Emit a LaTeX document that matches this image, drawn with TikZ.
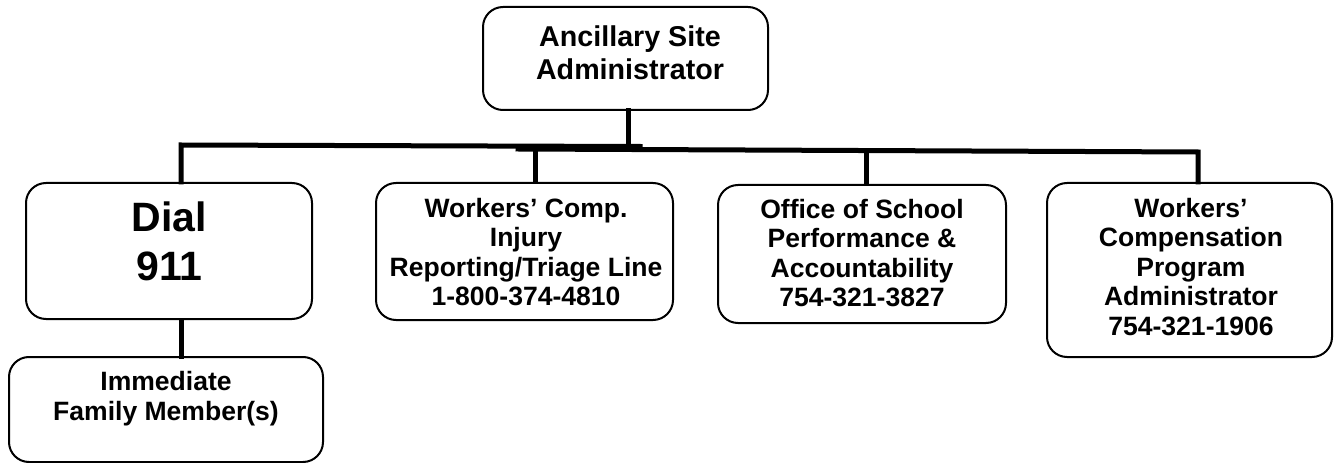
\documentclass[tikz,border=0pt]{standalone}
\usepackage{fontspec}
\setmainfont{Liberation Sans}
\usetikzlibrary{calc}
\begin{document}
\begin{tikzpicture}[x=0.75pt,y=-0.75pt,
  box/.style={draw=black, line width=1.5pt, rounded corners=15pt, inner sep=0pt},
  lbl/.style={font=\bfseries\fontsize{19.9pt}{22.1pt}\selectfont, align=center, anchor=base, inner sep=0pt},
  toplbl/.style={lbl, font=\bfseries\fontsize{21.5pt}{24.75pt}\selectfont},
  biglbl/.style={lbl, font=\bfseries\fontsize{30.75pt}{36pt}\selectfont},
  bus/.style={line width=3.75pt, line join=miter, line cap=rect}]
\useasboundingbox (0,0) rectangle (1337,463);

% boxes
\node[box, minimum width=213.75pt, minimum height=77.25pt] (top) at (625.5,58.5) {};
\node[box, minimum width=214.5pt, minimum height=102pt] (dial) at (169,251) {};
\node[box, minimum width=235.5pt, minimum height=78.75pt] (fam) at (166,409.5) {};
\node[box, minimum width=222.75pt, minimum height=102.75pt] (wc) at (524.5,251.5) {};
\node[box, minimum width=216pt, minimum height=103.5pt] (osp) at (862,254) {};
\node[box, minimum width=213.75pt, minimum height=130.5pt] (wcp) at (1189.5,270) {};

% labels (anchored at the baseline of their last line)
\node[toplbl] (topt) at (630,80) {Ancillary Site\\Administrator};
\node[biglbl] (dialt) at (169.5,280) {Dial\\911};
\node[lbl] (famt) at (166,420) {Immediate\\Family Member(s)};
\node[lbl] (wct) at (526,305.5) {Workers’ Comp.\\Injury\\Reporting/Triage Line\\1-800-374-4810};
\node[lbl] (ospt) at (862,306.5) {Office of School\\Performance \&\\Accountability\\754-321-3827};
\node[lbl] (wcpt) at (1191,335) {Workers’\\Compensation\\Program\\Administrator\\754-321-1906};

% connector bus: two overlapping runs joined under the top box
\coordinate (b0) at (181,145);
\coordinate (bl) at (640,146.5);
\coordinate (br) at (518,149);
\coordinate (bt) at (628,148);
\coordinate (b2) at (535,149.1);
\coordinate (b3) at (866,150.5);
\coordinate (b4) at (1198,152);
\draw[bus] (b0 |- dial.north) -- (b0) -- (bl);
\draw[bus] (br) -- (b4) -- (b4 |- wcp.north);
\draw[bus] (top.south -| bt) -- (bt);
\draw[bus] (b2) -- (b2 |- wc.north);
\draw[bus] (b3) -- (b3 |- osp.north);
\draw[bus] (b0 |- dial.south) -- (b0 |- fam.north);
\end{tikzpicture}
\end{document}
